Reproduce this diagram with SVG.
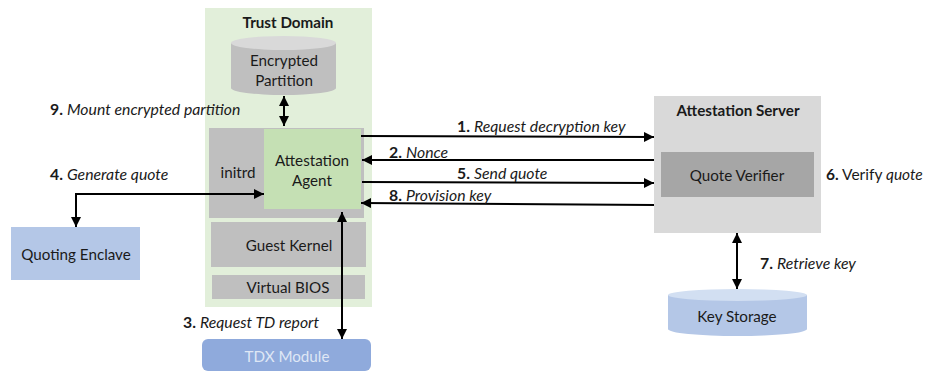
<svg xmlns="http://www.w3.org/2000/svg" width="925" height="371" viewBox="0 0 925 371">
<style>
text{font-family:Lato,"Open Sans","Liberation Sans",sans-serif;font-size:15.200px;fill:#1a1a1a}
.c{text-anchor:middle}
.b{font-weight:bold}
.i{font-style:italic}
.l{fill:none;stroke:#000;stroke-width:2}
#labels text{font-size:15.800px}
#labels text.s{font-size:15.500px}
</style>
<defs>
<marker id="a" viewBox="0 0 10 10" refX="10" refY="5" markerWidth="10" markerHeight="10" markerUnits="userSpaceOnUse" orient="auto-start-reverse"><path d="M0 0L10 5L0 10Z" fill="#000"/></marker>
</defs>
<rect width="925" height="371" fill="#fff"/>
<g id="trust-domain"><rect x="205" y="8" width="167" height="299" fill="#e2efda"/><text class="c b" x="288" y="28">Trust Domain</text></g>
<g id="encrypted-partition"><path d="M231 43V88A52.500 7 0 0 0 336 88V43Z" fill="#bfbfbf"/><ellipse cx="283.500" cy="43" rx="52.500" ry="7" fill="#d9d9d9"/><text class="c" x="284" y="66">Encrypted</text><text class="c" x="284" y="86">Partition</text></g>
<g id="initrd"><rect x="209" y="128" width="155" height="90" fill="#bfbfbf"/><text class="c" x="238" y="178">initrd</text></g>
<g id="attestation-agent"><rect x="264" y="129" width="97" height="80" fill="#c5e0b4"/><text class="c" x="312" y="166">Attestation</text><text class="c" x="312" y="186">Agent</text></g>
<g id="guest-kernel"><rect x="211" y="222" width="155" height="45" fill="#bfbfbf"/><text class="c" x="289" y="251">Guest Kernel</text></g>
<g id="virtual-bios"><rect x="212" y="275" width="153" height="24" fill="#bfbfbf"/><text class="c" x="288" y="293">Virtual BIOS</text></g>
<g id="attestation-server"><rect x="654" y="96" width="167" height="137" fill="#d9d9d9"/><text class="c b" x="738" y="116">Attestation Server</text></g>
<g id="quote-verifier"><rect x="661" y="152" width="153" height="45" fill="#a6a6a6"/><text class="c" x="737" y="181">Quote Verifier</text></g>
<g id="key-storage"><path d="M668 295V329A69.500 7 0 0 0 807 329V295Z" fill="#b4c7e7"/><ellipse cx="737.500" cy="295" rx="69.500" ry="6" fill="#d2dff2"/><text class="c" x="737" y="322">Key Storage</text></g>
<g id="quoting-enclave"><rect x="11" y="227" width="129" height="53" fill="#b4c7e7"/><text class="c" x="76" y="260">Quoting Enclave</text></g>
<g id="tdx-module"><rect x="202" y="339" width="169" height="32" rx="6" fill="#8faadc"/><text class="c" x="287" y="362" style="fill:#dfe7f5">TDX Module</text></g>
<g id="connectors">
<path class="l" d="M284 96V126" marker-start="url(#a)" marker-end="url(#a)"/>
<path class="l" d="M361 136L654 137" marker-end="url(#a)"/>
<path class="l" d="M654 160H362" marker-end="url(#a)"/>
<path class="l" d="M362 182L654 183" marker-end="url(#a)"/>
<path class="l" d="M654 205L361 203" marker-end="url(#a)"/>
<path class="l" d="M76 227V194H264" marker-start="url(#a)" marker-end="url(#a)"/>
<path class="l" d="M342 212V339" marker-start="url(#a)" marker-end="url(#a)"/>
<path class="l" d="M737 233V289" marker-start="url(#a)" marker-end="url(#a)"/>
</g>
<g id="labels">
<text x="50" y="115"><tspan class="b">9.</tspan> <tspan class="i">Mount encrypted partition</tspan></text>
<text x="50" y="180"><tspan class="b">4.</tspan> <tspan class="i">Generate quote</tspan></text>
<text x="457" y="132"><tspan class="b">1.</tspan> <tspan class="i">Request decryption key</tspan></text>
<text x="389" y="158"><tspan class="b">2.</tspan> <tspan class="i">Nonce</tspan></text>
<text x="457" y="179"><tspan class="b">5.</tspan> <tspan class="i">Send quote</tspan></text>
<text x="389" y="201"><tspan class="b">8.</tspan> <tspan class="i">Provision key</tspan></text>
<text class="s" x="826" y="180"><tspan class="b">6.</tspan> Verify <tspan class="i">quote</tspan></text>
<text x="760" y="269"><tspan class="b">7.</tspan> <tspan class="i">Retrieve key</tspan></text>
<text x="183" y="328"><tspan class="b">3.</tspan> <tspan class="i">Request TD report</tspan></text>
</g>
</svg>
